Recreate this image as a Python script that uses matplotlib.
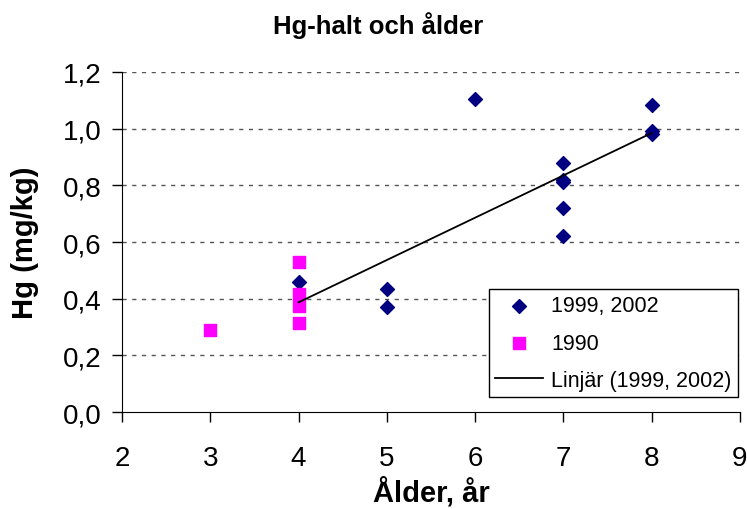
import matplotlib.pyplot as plt
import numpy as np

plt.rcParams['font.family'] = ['Liberation Sans', 'DejaVu Sans']

# data
age_new = [4, 5, 5, 6, 7, 7, 7, 7, 7, 8, 8, 8]
hg_new = [0.46, 0.435, 0.37, 1.105, 0.88, 0.81, 0.82, 0.72, 0.62, 1.085, 0.99, 0.98]
age_old = [3, 4, 4, 4, 4]
hg_old = [0.29, 0.53, 0.415, 0.375, 0.315]
yticks = [0.0, 0.2, 0.4, 0.6, 0.8, 1.0, 1.2]
xticks = [2, 3, 4, 5, 6, 7, 8, 9]

fig = plt.figure(figsize=(7.47, 5.10), dpi=100)
ax = fig.add_axes([0.1633, 0.190, 0.8273, 0.667])

ax.scatter(age_new, hg_new, marker='D', s=50, color='#000080', zorder=3, label='1999, 2002')
ax.scatter(age_old, hg_old, marker='s', s=65, color='#ff00ff', zorder=3, label='1990')

# linear trend for 1999, 2002
k, m = np.polyfit(age_new, hg_new, 1)
xs = np.array([min(age_new), max(age_new)])
ax.plot(xs, k * xs + m, color='black', lw=1.3, zorder=4, label='Linjär (1999, 2002)')

ax.set_xlim(2, 9)
ax.set_ylim(0, 1.2)
ax.set_xticks(xticks)
ax.set_yticks(yticks)
ax.set_yticklabels([f'{v:.1f}'.replace('.', ',') for v in yticks])
ax.tick_params(labelsize=20, direction='out', length=7, width=1)
ax.tick_params(axis='x', pad=17)
ax.tick_params(axis='y', pad=8)

for v in yticks[1:]:
    ax.axhline(v, color='#555555', lw=1, ls=(0, (3, 4)), zorder=1)

ax.spines['top'].set_visible(False)
ax.spines['right'].set_visible(False)

# title is centred on the whole figure, not on the axes
fig.text(0.506, 0.949, 'Hg-halt och ålder', fontsize=18.5, fontweight='bold',
         ha='center', va='center')
ax.set_xlabel('Ålder, år', fontsize=21, fontweight='bold', labelpad=3)
ax.set_ylabel('Hg (mg/kg)', fontsize=21, fontweight='bold', labelpad=17)

leg = ax.legend(loc='lower right', bbox_to_anchor=(0.997, 0.044), fontsize=15.5,
                frameon=True, fancybox=False, edgecolor='black', framealpha=1,
                borderpad=0.3, labelspacing=0.75, handlelength=2.2, handletextpad=0.4,
                borderaxespad=0)
leg.get_frame().set_linewidth(1)

fig.savefig('out.png', dpi=100)
